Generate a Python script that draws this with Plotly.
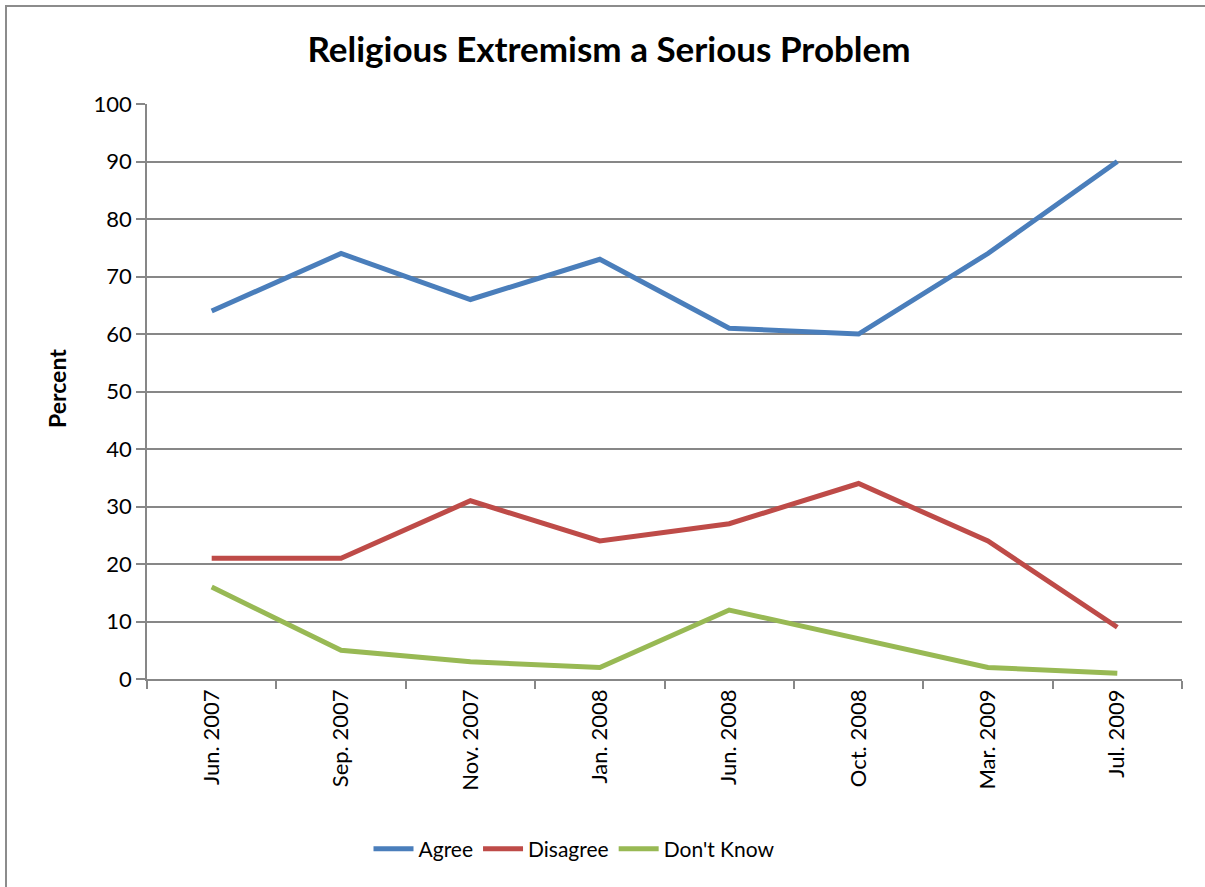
import plotly.graph_objects as go

# Survey waves
waves = ["Jun. 2007", "Sep. 2007", "Nov. 2007", "Jan. 2008",
         "Jun. 2008", "Oct. 2008", "Mar. 2009", "Jul. 2009"]

# Responses, percent
agree = [64, 74, 66, 73, 61, 60, 74, 90]
disagree = [21, 21, 31, 24, 27, 34, 24, 9]
dont_know = [16, 5, 3, 2, 12, 7, 2, 1]

y_ticks = [0, 10, 20, 30, 40, 50, 60, 70, 80, 90, 100]

FONT = "Lato"
GRID = "#878787"

series = [
    ("Agree", agree, "#4A7EBB"),
    ("Disagree", disagree, "#BE4B48"),
    ("Don't Know", dont_know, "#98B954"),
]

fig = go.Figure()
for name, vals, color in series:
    fig.add_trace(go.Scatter(
        x=waves, y=vals, name=name, mode="lines",
        line=dict(color=color, width=5),
    ))

fig.update_layout(
    width=1205, height=887,
    margin=dict(l=147, r=23, t=104, b=208),
    paper_bgcolor="white", plot_bgcolor="white",
    font=dict(family=FONT, size=22, color="black"),
    title=dict(
        text="<b>Religious Extremism a Serious Problem</b>",
        x=609 / 1205, xanchor="center", y=1 - 50 / 887, yanchor="middle",
        font=dict(family=FONT, size=35, color="black"),
    ),
    showlegend=True,
    legend=dict(
        orientation="h", x=(574 - 147) / 1035, xanchor="center",
        y=-0.296, yanchor="middle",
        font=dict(family=FONT, size=21),
        itemwidth=40, tracegroupgap=0,
    ),
    xaxis=dict(
        type="category", range=[-0.5, 7.5],
        showgrid=False, showline=True, linecolor=GRID, linewidth=1.5,
        ticks="outside", tickson="boundaries", ticklen=8,
        tickcolor=GRID, tickwidth=1.5,
        tickangle=-90, tickfont=dict(family=FONT, size=22),
    ),
    yaxis=dict(
        range=[0, 100], tickvals=y_ticks,
        showgrid=True, gridcolor=GRID, gridwidth=1.5,
        showline=True, linecolor=GRID, linewidth=1.5,
        ticks="outside", ticklen=9, tickcolor=GRID, tickwidth=1.5,
        tickfont=dict(family=FONT, size=22), zeroline=False,
    ),
    annotations=[dict(
        text="<b>Percent</b>", textangle=-90,
        xref="paper", yref="paper", x=(57 - 147) / 1035,
        y=(679 - 389) / 575,
        xanchor="center", yanchor="middle", showarrow=False,
        font=dict(family=FONT, size=23),
    )],
    shapes=[dict(
        type="rect", xref="paper", yref="paper",
        x0=(6 - 147) / 1035, x1=(1215 - 147) / 1035,
        y0=(679 - 900) / 575, y1=(679 - 6) / 575,
        line=dict(color="#8c8c8c", width=2), layer="below",
    )],
)

fig.write_html("out.html")
